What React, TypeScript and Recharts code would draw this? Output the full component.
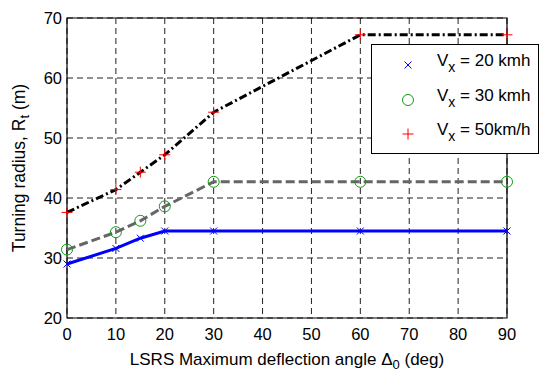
import { LineChart, Line, XAxis, YAxis, CartesianGrid, ReferenceArea, Label } from 'recharts'

const ANGLES = [0, 10, 15, 20, 30, 60, 90]
const V20 = [29, 31.6, 33.3, 34.5, 34.5, 34.5, 34.5]
const V30 = [31.4, 34.3, 36.2, 38.6, 42.7, 42.7, 42.7]
const V50 = [37.6, 41.4, 44.3, 47.2, 54.3, 67.2, 67.2]
const X_TICKS = [0, 10, 20, 30, 40, 50, 60, 70, 80, 90]
const Y_TICKS = [20, 30, 40, 50, 60, 70]
const SERIES = [
  { key: 'v20', speed: '20 kmh' },
  { key: 'v30', speed: '30 kmh' },
  { key: 'v50', speed: '50km/h' },
]

const FONT = '"Liberation Sans", Arial, sans-serif'
const data = ANGLES.map((a, i) => ({ angle: a, v20: V20[i], v30: V30[i], v50: V50[i] }))

function Cross({ cx, cy, color = '#0000ff' }: any) {
  if (cx == null || cy == null) return null
  const s = 3.5
  return (
    <g stroke={color} strokeWidth={1}>
      <line x1={cx - s} y1={cy - s} x2={cx + s} y2={cy + s} />
      <line x1={cx - s} y1={cy + s} x2={cx + s} y2={cy - s} />
    </g>
  )
}

function Ring({ cx, cy }: any) {
  if (cx == null || cy == null) return null
  return <circle cx={cx} cy={cy} r={5.5} fill="none" stroke="#119911" strokeWidth={1} />
}

function Plus({ cx, cy }: any) {
  if (cx == null || cy == null) return null
  const s = 5.5
  return (
    <g stroke="#ff0000" strokeWidth={1}>
      <line x1={cx - s} y1={cy} x2={cx + s} y2={cy} />
      <line x1={cx} y1={cy - s} x2={cx} y2={cy + s} />
    </g>
  )
}

const MARKERS: Record<string, any> = { v20: Cross, v30: Ring, v50: Plus }

// legend drawn over the chart so it takes no room from the plot
function LegendBox() {
  return (
    <div style={{ position: 'absolute', left: 371, top: 44, width: 168, height: 110, border: '1px solid #000', background: '#fff', boxSizing: 'border-box', fontFamily: FONT, fontSize: 17, color: '#000' }}>
      {SERIES.map((s, i) => {
        const M = MARKERS[s.key]
        return (
          <div key={s.key} style={{ position: 'absolute', left: 0, top: 6 + i * 34.5, height: 30, width: 168 }}>
            <svg width={24} height={24} style={{ position: 'absolute', left: 24, top: 2 }}>
              <M cx={12} cy={12} />
            </svg>
            <span style={{ position: 'absolute', left: 65, top: 0, whiteSpace: 'nowrap', lineHeight: '20px' }}>
              V<sub style={{ fontSize: 14, verticalAlign: -6 }}>x</sub> = {s.speed}
            </span>
          </div>
        )
      })}
    </div>
  )
}

function XTitle({ viewBox }: any) {
  const cx = viewBox.x + viewBox.width / 2
  return (
    <text x={cx} y={viewBox.y + 47} textAnchor="middle" fontSize={17} fontFamily={FONT} fill="#000">
      LSRS Maximum deflection angle Δ<tspan dy={4} fontSize={13}>0</tspan><tspan dy={-4}> (deg)</tspan>
    </text>
  )
}

function YTitle({ viewBox }: any) {
  const cy = viewBox.y + viewBox.height / 2
  const x = 25
  return (
    <text x={x} y={cy} transform={`rotate(-90 ${x} ${cy})`} textAnchor="middle" fontSize={17.5} fontFamily={FONT} fill="#000">
      Turning radius, R<tspan dy={4} fontSize={13}>t</tspan><tspan dy={-4}> (m)</tspan>
    </text>
  )
}

export default function App() {
  return (
    <div style={{ position: 'absolute', left: 0, top: 0, width: 539, height: 372, background: '#fff', overflow: 'hidden' }}>
      <LineChart width={539} height={372} data={data} margin={{ top: 18, right: 32, left: 0, bottom: 0 }}>
        <CartesianGrid stroke="#222" strokeDasharray="6 4" strokeWidth={1} />
        <XAxis
          dataKey="angle"
          type="number"
          domain={[0, 90]}
          ticks={X_TICKS}
          height={54}
          tickLine={false}
          axisLine={false}
          tickSize={0}
          tickMargin={10}
          tick={{ fill: '#000', fontSize: 16.5, fontFamily: FONT }}
        >
          <Label content={<XTitle />} />
        </XAxis>
        <YAxis
          type="number"
          domain={[20, 70]}
          ticks={Y_TICKS}
          width={67}
          tickLine={false}
          axisLine={false}
          tickSize={0}
          tickMargin={5}
          tick={{ fill: '#000', fontSize: 16.5, fontFamily: FONT }}
        >
          <Label content={<YTitle />} />
        </YAxis>
        <ReferenceArea x1={0} x2={90} y1={20} y2={70} fill="none" stroke="#000" strokeWidth={1.2} ifOverflow="visible" />
        <Line dataKey="v20" stroke="#0000ff" strokeWidth={3} dot={<Cross />} activeDot={false} isAnimationActive={false} />
        <Line dataKey="v30" stroke="#666666" strokeWidth={3} strokeDasharray="9 4" dot={<Ring />} activeDot={false} isAnimationActive={false} />
        <Line dataKey="v50" stroke="#000000" strokeWidth={3} strokeDasharray="8 3 2 3" dot={<Plus />} activeDot={false} isAnimationActive={false} />
      </LineChart>
      <LegendBox />
    </div>
  )
}
